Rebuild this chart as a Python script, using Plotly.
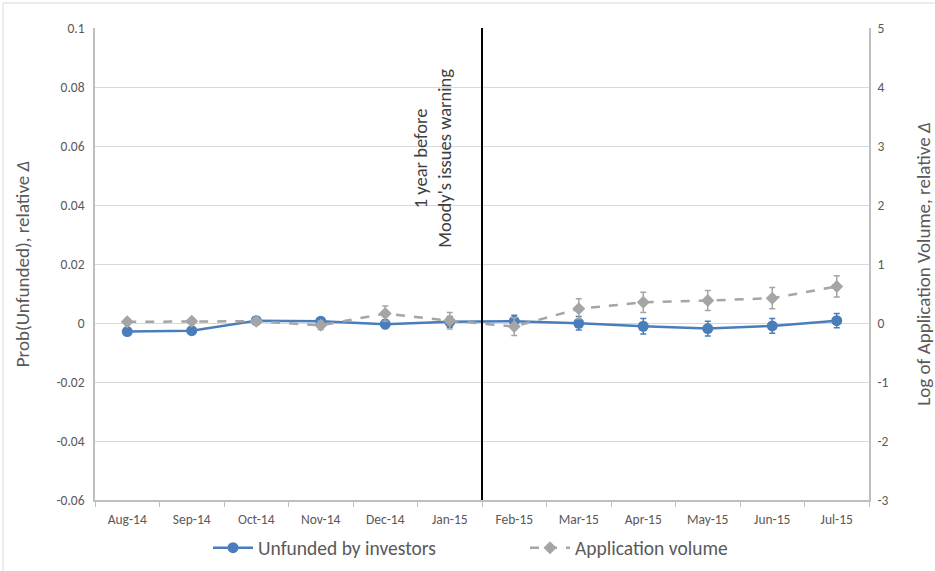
import plotly.graph_objects as go

months = ["Aug-14", "Sep-14", "Oct-14", "Nov-14", "Dec-14", "Jan-15",
          "Feb-15", "Mar-15", "Apr-15", "May-15", "Jun-15", "Jul-15"]

unfunded = [-0.0029, -0.0026, 0.0008, 0.0006, -0.0004, 0.0004,
            0.0006, -0.0001, -0.0011, -0.0019, -0.0010, 0.0008]
unfunded_err = [0.0010, 0.0010, 0.0012, 0.0012, 0.0015, 0.0018,
                0.0020, 0.0023, 0.0026, 0.0025, 0.0025, 0.0024]

app_volume = [0.02, 0.03, 0.03, -0.04, 0.16, 0.04,
              -0.06, 0.24, 0.35, 0.38, 0.42, 0.62]
app_err = [0.05, 0.05, 0.05, 0.07, 0.13, 0.14,
           0.15, 0.17, 0.17, 0.17, 0.18, 0.18]

left_ticks = [-0.06, -0.04, -0.02, 0, 0.02, 0.04, 0.06, 0.08, 0.1]
left_tick_text = ["-0.06", "-0.04", "-0.02", "0", "0.02", "0.04", "0.06", "0.08", "0.1"]
right_ticks = [-3, -2, -1, 0, 1, 2, 3, 4, 5]
right_tick_text = ["-3", "-2", "-1", "0", "1", "2", "3", "4", "5"]

event_label = "1 year before<br>Moody's issues warning"

BLUE = "#4a7ebb"
GRAY = "#a5a5a5"
TEXT = "#595959"
FONT = "Carlito, Lato, Liberation Sans, sans-serif"

fig = go.Figure()

fig.add_trace(go.Scatter(
    x=months, y=unfunded, name="Unfunded by investors",
    mode="lines+markers",
    line=dict(color=BLUE, width=2.5),
    marker=dict(symbol="circle", size=11, color=BLUE),
    error_y=dict(type="data", array=unfunded_err, color=BLUE, thickness=1.5, width=3),
    yaxis="y",
))

fig.add_trace(go.Scatter(
    x=months, y=app_volume, name="Application volume",
    mode="lines+markers",
    line=dict(color=GRAY, width=2.5, dash="dash"),
    marker=dict(symbol="diamond", size=10, color=GRAY),
    error_y=dict(type="data", array=app_err, color=GRAY, thickness=1.5, width=3),
    yaxis="y2",
))

# Event marker between Jan-15 and Feb-15
fig.add_shape(type="line", xref="x", yref="y", x0=5.5, x1=5.5, y0=-0.06, y1=0.1,
              line=dict(color="black", width=2))
fig.add_annotation(x=4.74, y=0.0560, xref="x", yref="y", text=event_label,
                   textangle=-90, showarrow=False,
                   font=dict(family=FONT, size=18.5, color="#404040"))

# Chart area border
fig.add_shape(type="rect", xref="paper", yref="paper",
              x0=(3 - 95) / 774, x1=(945 - 95) / 774,
              y0=(500 - 580) / 472, y1=(500 - 3) / 472,
              line=dict(color="#d9d9d9", width=1), layer="below")

fig.update_layout(
    width=935, height=571,
    margin=dict(l=95, r=66, t=28, b=71, autoexpand=False),
    paper_bgcolor="white", plot_bgcolor="white",
    font=dict(family=FONT, size=14, color=TEXT),
    showlegend=True,
    legend=dict(orientation="h", x=208 / 935, xanchor="left",
                xref="container", yref="container", y=1 - 548 / 571, yanchor="middle",
                font=dict(size=19.5, color=TEXT), traceorder="normal",
                itemwidth=40, entrywidth=262, entrywidthmode="pixels"),
    xaxis=dict(type="category", range=[-0.5, 11.5], showgrid=False,
               showline=True, linecolor="#bfbfbf", linewidth=1.5,
               ticks="outside", tickson="boundaries", ticklen=5, tickcolor="#bfbfbf",
               ticklabelstandoff=6,
               tickfont=dict(size=13.5, color=TEXT)),
    yaxis=dict(range=[-0.06, 0.1], tickmode="array", tickvals=left_ticks,
               ticktext=left_tick_text, showgrid=True,
               gridcolor="#d9d9d9", gridwidth=1, zeroline=False,
               showline=True, linecolor="#bfbfbf", linewidth=1.5,
               ticks="", ticklabelstandoff=6,
               tickfont=dict(size=13.5, color=TEXT),
               title=dict(text="Prob(Unfunded), relative <i>Δ</i>",
                          font=dict(size=19, color=TEXT), standoff=22)),
    yaxis2=dict(range=[-3, 5], tickmode="array", tickvals=right_ticks,
                ticktext=right_tick_text, overlaying="y", side="right",
                showgrid=False, zeroline=False,
                showline=True, linecolor="#bfbfbf", linewidth=1.5,
                ticks="", ticklabelstandoff=4,
                tickfont=dict(size=13.5, color=TEXT),
                title=dict(text="Log of Application Volume, relative <i>Δ</i>",
                           font=dict(size=19, color=TEXT), standoff=32)),
)

fig.write_html("out.html")
